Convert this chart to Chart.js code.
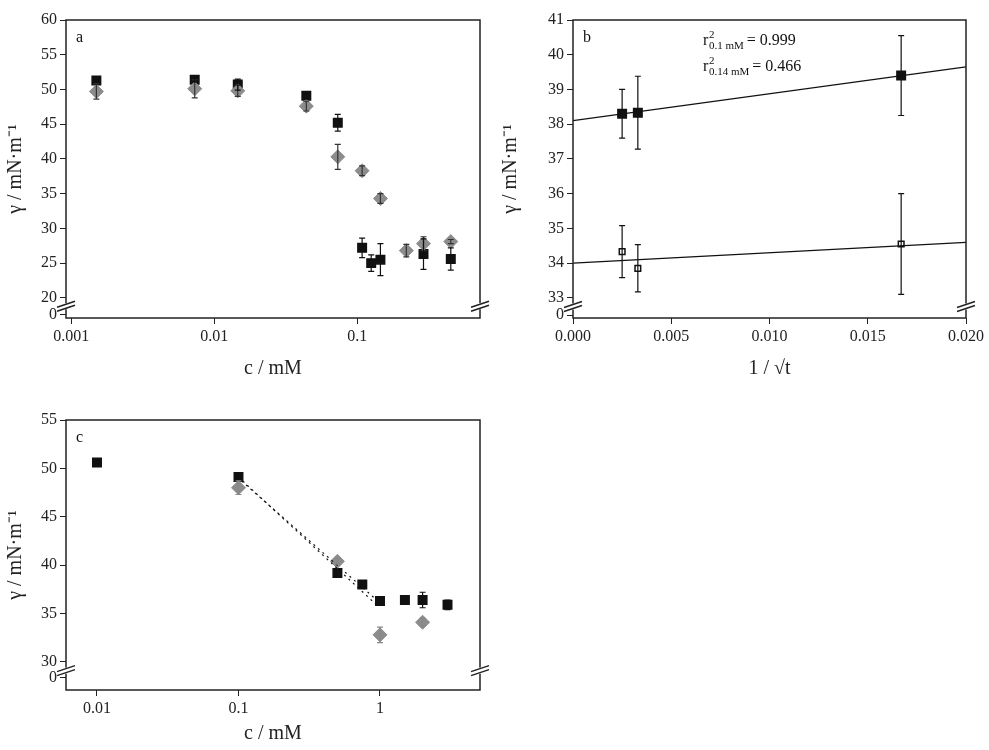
<!DOCTYPE html>
<html><head><meta charset="utf-8">
<script src="https://cdn.jsdelivr.net/npm/chart.js@4"></script>
<style>
body{margin:0;background:#fff;width:989px;height:750px;position:relative;overflow:hidden}
.p{position:absolute}
</style></head><body>
<div class="p" style="left:0;top:0;width:490px;height:385px"><canvas id="ca"></canvas></div>
<div class="p" style="left:495px;top:0;width:494px;height:385px"><canvas id="cb"></canvas></div>
<div class="p" style="left:0;top:400px;width:490px;height:350px"><canvas id="cc"></canvas></div>
<script>
// panel a
const aX1 = [0.0015, 0.0073, 0.0146, 0.044, 0.073, 0.108, 0.125, 0.145, 0.29, 0.45];
const aY1 = [51.3, 51.4, 50.7, 49.1, 45.2, 27.2, 25.0, 25.5, 26.3, 25.6];
const aE1 = [0.3, 0.3, 0.8, 0.5, 1.2, 1.4, 1.2, 2.3, 2.2, 1.6];
const aX2 = [0.0015, 0.0073, 0.0146, 0.044, 0.073, 0.108, 0.145, 0.22, 0.29, 0.45];
const aY2 = [49.7, 50.1, 49.8, 47.6, 40.3, 38.3, 34.3, 26.8, 27.8, 28.1];
const aE2 = [1.1, 1.3, 0.8, 0.7, 1.8, 0.7, 0.7, 0.9, 1.0, 0.3];
const aYTicks = [20, 25, 30, 35, 40, 45, 50, 55, 60];
const aXTicks = [0.001, 0.01, 0.1];
// panel b
const bX = [0.0025, 0.0033, 0.0167];
const bY1 = [38.3, 38.33, 39.4];
const bE1 = [0.7, 1.05, 1.15];
const bY2 = [34.33, 33.85, 34.55];
const bE2 = [0.75, 0.68, 1.45];
const bFit1 = [[0, 38.1], [0.02, 39.65]];
const bFit2 = [[0, 34.0], [0.02, 34.6]];
const bYTicks = [33, 34, 35, 36, 37, 38, 39, 40, 41];
const bXTicks = [0, 0.005, 0.01, 0.015, 0.02];
// panel c
const cX1 = [0.01, 0.1, 0.5, 0.75, 1.0, 1.5, 2.0, 3.0];
const cY1 = [50.6, 49.1, 39.2, 38.0, 36.3, 36.4, 36.4, 35.9];
const cE1 = [0.2, 0.2, 0.4, 0.4, 0.3, 0.4, 0.8, 0.5];
const cX2 = [0.1, 0.5, 1.0, 2.0];
const cY2 = [48.0, 40.4, 32.8, 34.1];
const cE2 = [0.7, 0.3, 0.8, 0.4];
const cFit1 = [[0.1, 49.1], [0.93, 36.0]];
const cFit2 = [[0.105, 48.7], [1.0, 36.1]];
const cYTicks = [30, 35, 40, 45, 50, 55];
const cXTicks = [0.01, 0.1, 1];

const FONT = 'Liberation Serif';
Chart.defaults.font.family = FONT;
Chart.defaults.color = '#222';
Chart.defaults.animation = false;

const pts = (xs, ys) => xs.map((x, i) => ({x, y: ys[i]}));
const lineDs = p => ({type: 'line', data: p.map(([x, y]) => ({x, y})), borderColor: '#111', borderWidth: 1.2, pointRadius: 0, showLine: true});

const frame = {
  id: 'frame',
  afterDatasetsDraw(ch, args, opts) {
    const c = ch.ctx, a = ch.chartArea;
    // error bars
    ch.data.datasets.forEach(ds => {
      if (!ds.err) return;
      const ys = ch.scales.y, xs = ch.scales.x;
      c.save(); c.strokeStyle = ds.errColor || '#111'; c.lineWidth = 1.2;
      ds.data.forEach((p, i) => {
        const px = xs.getPixelForValue(p.x), t = ys.getPixelForValue(p.y + ds.err[i]), b = ys.getPixelForValue(p.y - ds.err[i]);
        c.beginPath(); c.moveTo(px, t); c.lineTo(px, b);
        c.moveTo(px - 3, t); c.lineTo(px + 3, t); c.moveTo(px - 3, b); c.lineTo(px + 3, b); c.stroke();
      });
      c.restore();
    });
    c.save();
    c.strokeStyle = '#222'; c.lineWidth = 1.5;
    c.strokeRect(a.left, a.top, a.right - a.left, a.bottom - a.top);
    // break marks
    const yb = ch.scales.y.getPixelForValue(opts.brk);
    [a.left, a.right].forEach(x => {
      c.fillStyle = '#fff'; c.fillRect(x - 2, yb - 3, 4, 6);
      c.beginPath(); c.moveTo(x - 9, yb + 1); c.lineTo(x + 9, yb - 5);
      c.moveTo(x - 9, yb + 5); c.lineTo(x + 9, yb - 1); c.stroke();
    });
    c.fillStyle = '#111'; c.font = '16px ' + FONT;
    c.fillText(opts.label, a.left + 10, a.top + 22);
    if (opts.r2) {
      opts.r2.forEach(([sub, val], i) => {
        let x = a.left + 130, y = a.top + 25 + i * 26;
        c.font = '16px ' + FONT; c.fillText('r', x, y); x += 6;
        c.font = '11px ' + FONT; c.fillText('2', x, y - 7); c.fillText(sub, x, y + 4);
        x += c.measureText(sub).width + 3;
        c.font = '16px ' + FONT; c.fillText('= ' + val, x, y);
      });
    }
    c.restore();
  }
};

function make(id, o) {
  const zero = o.zero;
  new Chart(document.getElementById(id), {
    type: 'scatter',
    data: {datasets: o.datasets},
    options: {
      responsive: true, maintainAspectRatio: false,
      layout: {padding: {top: 20, right: o.rpad, left: 0, bottom: 0}},
      plugins: {legend: {display: false}, tooltip: {enabled: false}, frame: {brk: o.brk, label: o.label, r2: o.r2}},
      scales: {
        x: {type: o.xType, min: o.xMin, max: o.xMax,
          grid: {display: true, drawOnChartArea: false, color: '#222', tickLength: 6},
          border: {display: false},
          afterBuildTicks: s => { s.ticks = o.xTicks.map(v => ({value: v})); },
          afterFit: s => { s.height = o.xh; },
          ticks: {font: {size: 16}, color: '#222', maxRotation: 0, autoSkip: false, callback: v => o.xFmt(v)},
          title: {display: true, text: o.xTitle, font: {size: 20}, color: '#222', padding: {top: 10}}},
        y: {type: 'linear', min: o.yMin, max: o.yMax,
          grid: {display: true, drawOnChartArea: false, color: '#222', tickLength: 6},
          border: {display: false},
          afterBuildTicks: s => { s.ticks = [zero].concat(o.yTicks).map(v => ({value: v})); },
          afterFit: s => { s.width = o.yw; },
          ticks: {font: {size: 16}, color: '#222', autoSkip: false, callback: v => v === zero ? '0' : String(v)},
          title: {display: true, text: 'γ / mN·m⁻¹', font: {size: 20}, color: '#222', padding: {bottom: 4}}}
      }
    },
    plugins: [frame]
  });
}

const sq = (d, fill) => ({data: d, pointStyle: 'rect', pointRadius: 6, backgroundColor: fill || '#111', borderColor: '#111', borderWidth: 1.5});
const dm = d => ({data: d, pointStyle: 'rectRot', pointRadius: 7, backgroundColor: '#8c8c8c', borderColor: '#8c8c8c', borderWidth: 1});

make('ca', {
  xType: 'logarithmic', xMin: 0.00092, xMax: 0.72, xTicks: aXTicks, xFmt: v => String(v),
  yMin: 17.1, yMax: 60, yTicks: aYTicks, zero: 17.55, brk: 18.8, yw: 66, xh: 67, rpad: 10, label: 'a',
  xTitle: 'c / mM',
  datasets: [
    Object.assign(dm(pts(aX2, aY2)), {err: aE2, errColor: '#333'}),
    Object.assign(sq(pts(aX1, aY1)), {err: aE1})
  ]
});
make('cb', {
  xType: 'linear', xMin: 0, xMax: 0.02, xTicks: bXTicks, xFmt: v => v.toFixed(3),
  yMin: 32.42, yMax: 41, yTicks: bYTicks, zero: 32.5, brk: 32.75, yw: 78, xh: 67, rpad: 23, label: 'b',
  xTitle: '1 / √t', r2: [['0.1 mM', '0.999'], ['0.14 mM', '0.466']],
  datasets: [
    lineDs(bFit1), lineDs(bFit2),
    Object.assign(sq(pts(bX, bY1)), {err: bE1}),
    Object.assign(sq(pts(bX, bY2), '#fff'), {err: bE2, pointRadius: 4})
  ]
});
make('cc', {
  xType: 'logarithmic', xMin: 0.00604, xMax: 5.09, xTicks: cXTicks, xFmt: v => String(v),
  yMin: 27.1, yMax: 55, yTicks: cYTicks, zero: 28.35, brk: 29.1, yw: 66, xh: 60, rpad: 10, label: 'c',
  xTitle: 'c / mM',
  datasets: [
    Object.assign(lineDs(cFit1), {borderDash: [2, 4]}), Object.assign(lineDs(cFit2), {borderDash: [2, 4]}),
    Object.assign(dm(pts(cX2, cY2)), {err: cE2, errColor: '#888'}),
    Object.assign(sq(pts(cX1, cY1)), {err: cE1})
  ]
});
</script></body></html>
